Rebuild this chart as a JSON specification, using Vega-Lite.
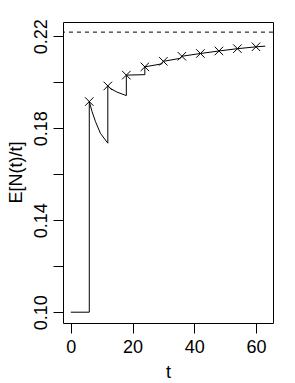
{
  "$schema": "https://vega.github.io/schema/vega-lite/v6.json",
  "autosize": {"type": "none"},
  "width": 210,
  "height": 301,
  "padding": {"left": 63, "top": 22, "right": 22, "bottom": 60},
  "background": "white",
  "config": {
    "view": {"stroke": "black", "strokeWidth": 1},
    "font": "Liberation Sans",
    "axis": {
      "domain": false,
      "grid": false,
      "tickColor": "black",
      "tickSize": 10,
      "tickWidth": 1,
      "labelColor": "black",
      "labelFont": "Liberation Sans",
      "labelFontSize": 18,
      "titleFont": "Liberation Sans",
      "titleFontSize": 18,
      "titleFontWeight": "normal",
      "titleColor": "black",
      "labelOverlap": false,
      "labelBound": false,
      "labelFlush": false
    }
  },
  "datasets": {
    "curve": [
      {"i": 1, "t": 0, "v": 0.1},
      {"i": 2, "t": 6, "v": 0.1},
      {"i": 3, "t": 6, "v": 0.1916},
      {"i": 4, "t": 6.9, "v": 0.1872},
      {"i": 5, "t": 8, "v": 0.1829},
      {"i": 6, "t": 9.6, "v": 0.1778},
      {"i": 7, "t": 11.2, "v": 0.1749},
      {"i": 8, "t": 12, "v": 0.1735},
      {"i": 9, "t": 12, "v": 0.1984},
      {"i": 10, "t": 13, "v": 0.1972},
      {"i": 11, "t": 15, "v": 0.1957},
      {"i": 12, "t": 18, "v": 0.1942},
      {"i": 13, "t": 18, "v": 0.2031},
      {"i": 14, "t": 24, "v": 0.2033},
      {"i": 15, "t": 24, "v": 0.2067},
      {"i": 16, "t": 29.5, "v": 0.2080},
      {"i": 17, "t": 30, "v": 0.2091},
      {"i": 18, "t": 35.5, "v": 0.2104},
      {"i": 19, "t": 36, "v": 0.2113},
      {"i": 20, "t": 42, "v": 0.2125},
      {"i": 21, "t": 48, "v": 0.2136},
      {"i": 22, "t": 54, "v": 0.2146},
      {"i": 23, "t": 60, "v": 0.2154},
      {"i": 24, "t": 63, "v": 0.2157}
    ],
    "pts": [
      {"t": 6, "v": 0.1916},
      {"t": 12, "v": 0.1984},
      {"t": 18, "v": 0.2031},
      {"t": 24, "v": 0.2067},
      {"t": 30, "v": 0.2091},
      {"t": 36, "v": 0.2113},
      {"t": 42, "v": 0.2125},
      {"t": 48, "v": 0.2136},
      {"t": 54, "v": 0.2146},
      {"t": 60, "v": 0.2154}
    ],
    "ref": [{"v": 0.2218}]
  },
  "layer": [
    {
      "data": {"name": "curve"},
      "mark": {"type": "line", "color": "black", "strokeWidth": 1, "clip": true},
      "encoding": {
        "x": {
          "field": "t", "type": "quantitative",
          "scale": {"domain": [-2.52, 65.52], "nice": false, "zero": false},
          "axis": {
            "values": [0, 10, 20, 30, 40, 50, 60],
            "labelExpr": "datum.value % 20 == 0 ? datum.label : ''",
            "labelBaseline": "alphabetic",
            "labelPadding": 19.5,
            "title": "t",
            "titleBaseline": "alphabetic",
            "titleY": 54
          }
        },
        "y": {
          "field": "v", "type": "quantitative",
          "scale": {"domain": [0.0953, 0.2262], "nice": false, "zero": false},
          "axis": {
            "values": [0.10, 0.12, 0.14, 0.16, 0.18, 0.20, 0.22],
            "format": ".2f",
            "labelExpr": "round(datum.value * 100) % 4 == 2 ? datum.label : ''",
            "labelAngle": -90,
            "labelAlign": "center",
            "labelBaseline": "alphabetic",
            "labelPadding": 6.6,
            "title": "E[N(t)/t]",
            "titleAngle": -90,
            "titleAlign": "center",
            "titleBaseline": "alphabetic",
            "titleX": -42,
            "titleY": 150
          }
        },
        "order": {"field": "i", "type": "quantitative"}
      }
    },
    {
      "data": {"name": "pts"},
      "mark": {
        "type": "point",
        "shape": "M-1,-1L1,1M-1,1L1,-1",
        "filled": false,
        "color": "black",
        "strokeWidth": 1,
        "size": 72,
        "opacity": 1
      },
      "encoding": {
        "x": {"field": "t", "type": "quantitative"},
        "y": {"field": "v", "type": "quantitative"}
      }
    },
    {
      "data": {"name": "ref"},
      "mark": {"type": "rule", "color": "black", "strokeWidth": 1, "strokeDash": [4, 4]},
      "encoding": {
        "y": {"field": "v", "type": "quantitative"}
      }
    }
  ]
}
